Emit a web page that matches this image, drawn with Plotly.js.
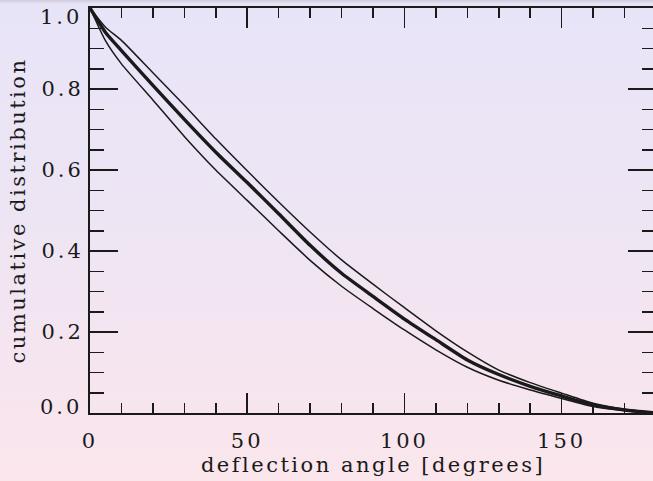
<!DOCTYPE html>
<html>
<head>
<meta charset="utf-8">
<script src="https://cdn.plot.ly/plotly-3.0.1.min.js"></script>
<style>
html, body { margin: 0; padding: 0; width: 653px; height: 481px; overflow: hidden; }
body { background: linear-gradient(to bottom, #d2cad8 0px, #e8e4f8 4px, #ede5f4 200px, #f8e5ee 420px, #fbe6ec 481px); }
#chart { width: 660px; height: 481px; }
.xtick text, .ytick text, .annotation-text { letter-spacing: 3px; }
.g-xtitle text, .g-ytitle text { letter-spacing: 2.5px; }
</style>
</head>
<body>
<div id="chart"></div>
<script>
// deflection angle [degrees]
const angle = [0, 5, 10, 20, 30, 40, 50, 60, 70, 80, 90, 100, 110, 120, 130, 140, 150, 160, 170, 180];
// cumulative distribution: central estimate (thick) and envelope (thin)
const cumMiddle = [1.0, 0.939, 0.895, 0.809, 0.725, 0.644, 0.569, 0.492, 0.414, 0.345, 0.288, 0.232, 0.181, 0.131, 0.095, 0.066, 0.042, 0.020, 0.0074, 0.0];
const cumUpper  = [1.0, 0.952, 0.920, 0.840, 0.760, 0.677, 0.598, 0.521, 0.447, 0.378, 0.318, 0.260, 0.203, 0.151, 0.106, 0.075, 0.049, 0.024, 0.009, 0.0];
const cumLower  = [1.0, 0.918, 0.862, 0.773, 0.683, 0.600, 0.525, 0.450, 0.377, 0.313, 0.258, 0.205, 0.156, 0.113, 0.081, 0.057, 0.036, 0.016, 0.006, 0.0];

const xTickVals = [0, 50, 100, 150];
const yTickVals = [0, 0.2, 0.4, 0.6, 0.8, 1.0];
// end labels of the y axis are drawn as annotations so they sit inside the frame like the reference
const yEndLabels = [0, 1.0];

const ink = '#1a1a1a';
const fontFam = 'DejaVu Serif';

const traces = [
  { x: angle, y: cumUpper, mode: 'lines', line: { color: ink, width: 1.5, shape: 'spline', smoothing: 0.6 }, hoverinfo: 'skip' },
  { x: angle, y: cumLower, mode: 'lines', line: { color: ink, width: 1.5, shape: 'spline', smoothing: 0.6 }, hoverinfo: 'skip' },
  { x: angle, y: cumMiddle, mode: 'lines', line: { color: ink, width: 3.4, shape: 'spline', smoothing: 0.6 }, hoverinfo: 'skip' }
];

const layout = {
  width: 660, height: 481, autosize: false,
  margin: { l: 90, r: 4, t: 8, b: 68 },
  paper_bgcolor: 'rgba(0,0,0,0)',
  plot_bgcolor: 'rgba(0,0,0,0)',
  showlegend: false,
  font: { family: fontFam, color: ink, size: 21 },
  xaxis: {
    range: [0, 180],
    tickmode: 'array', tickvals: xTickVals, ticktext: xTickVals.map(String),
    ticks: 'inside', ticklen: 20, tickwidth: 1.5, tickcolor: ink,
    minor: { dtick: 10, tick0: 0, ticks: 'inside', ticklen: 10, tickwidth: 1.5, tickcolor: ink },
    showline: true, linecolor: ink, linewidth: 2, mirror: 'ticks',
    showgrid: false, zeroline: false,
    ticklabelstandoff: 8, ticklabeloverflow: 'allow',
    tickfont: { family: fontFam, size: 21, color: ink },
    title: { text: 'deflection angle [degrees]', font: { family: fontFam, size: 21, color: ink }, standoff: 4 }
  },
  yaxis: {
    range: [0, 1],
    tickmode: 'array', tickvals: yTickVals,
    ticktext: yTickVals.map(v => yEndLabels.includes(v) ? '' : v.toFixed(1)),
    ticks: 'inside', ticklen: 28, tickwidth: 1.5, tickcolor: ink,
    minor: { dtick: 0.05, tick0: 0, ticks: 'inside', ticklen: 14, tickwidth: 1.5, tickcolor: ink },
    showline: true, linecolor: ink, linewidth: 2, mirror: 'ticks',
    showgrid: false, zeroline: false,
    ticklabeloverflow: 'allow',
    tickfont: { family: fontFam, size: 21, color: ink },
    title: { text: 'cumulative distribution', font: { family: fontFam, size: 21, color: ink }, standoff: 10 }
  },
  annotations: yEndLabels.map(v => ({
    xref: 'paper', yref: 'y', x: 0, y: v,
    text: v.toFixed(1), showarrow: false,
    xanchor: 'right', yanchor: 'middle',
    xshift: -6, yshift: v === 0 ? 6 : -9,
    font: { family: fontFam, size: 21, color: ink }
  }))
};

Plotly.newPlot('chart', traces, layout, { staticPlot: true, displayModeBar: false });
</script>
</body>
</html>
